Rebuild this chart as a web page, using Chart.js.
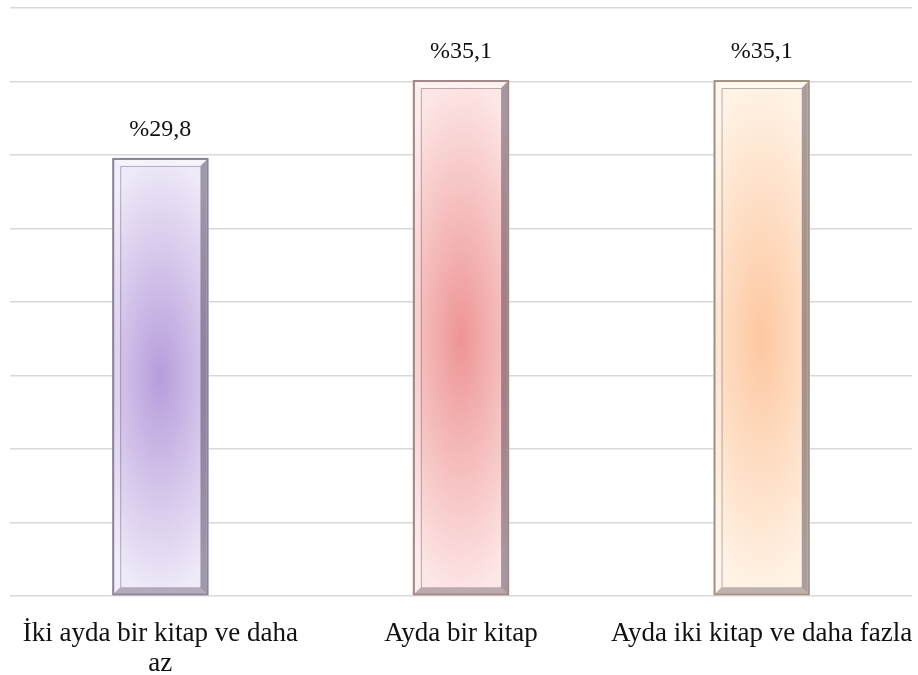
<!DOCTYPE html>
<html>
<head>
<meta charset="utf-8">
<script src="https://cdn.jsdelivr.net/npm/chart.js@4/dist/chart.umd.min.js"></script>
<style>
  html, body { margin: 0; padding: 0; background: #ffffff; }
  #wrap { width: 918px; height: 675px; }
</style>
</head>
<body>
<div id="wrap"><canvas id="c" width="918" height="675"></canvas></div>
<script>
// Okuma sıklığı dağılımı (%)
const categories = [['İki ayda bir kitap ve daha', 'az'], 'Ayda bir kitap', 'Ayda iki kitap ve daha fazla'];
const values = [29.8, 35.1, 35.1];
const centerColors = ['#b69ddb', '#ee9494', '#fdc7a0'];
const edgeColors = ['#efe9f8', '#fde6e6', '#fff3e6'];
const frameColors = ['#8a8399', '#a08888', '#a29484'];

const serif = '"Liberation Serif", "Times New Roman", serif';
const fmt = v => '%' + v.toFixed(1).replace('.', ',');

// Draws the bevelled, radially shaded bars on top of the library's bar elements
const bevelBars = {
  id: 'bevelBars',
  afterDatasetsDraw(chart) {
    const ctx = chart.ctx;
    const meta = chart.getDatasetMeta(0);
    meta.data.forEach((bar, i) => {
      const { x, y, base, width } = bar.getProps(['x', 'y', 'base', 'width'], true);
      const l = x - width / 2, r = x + width / 2, t = y, b = base;
      const w = r - l, h = b - t;
      const cx = x, cy = (t + b) / 2;

      // radial body
      ctx.save();
      ctx.beginPath();
      ctx.rect(l, t, w, h);
      ctx.clip();
      ctx.fillStyle = edgeColors[i];
      ctx.fillRect(l, t, w, h);
      ctx.translate(cx, cy);
      const ry = h / 2;
      const rx = w * 0.85;
      ctx.scale(rx / ry, 1);
      const g = ctx.createRadialGradient(0, 0, 0, 0, 0, ry);
      g.addColorStop(0, centerColors[i]);
      g.addColorStop(1, edgeColors[i]);
      ctx.fillStyle = g;
      ctx.fillRect(-ry, -ry, 2 * ry, 2 * ry);
      ctx.restore();

      const o = 2, inn = 8;
      ctx.save();
      // light bevel: top and left
      ctx.fillStyle = 'rgba(255,255,255,0.45)';
      ctx.beginPath();
      ctx.moveTo(l + o, t + o); ctx.lineTo(r - o, t + o); ctx.lineTo(r - inn, t + inn);
      ctx.lineTo(l + inn, t + inn); ctx.closePath(); ctx.fill();
      ctx.fillStyle = 'rgba(255,255,255,0.25)';
      ctx.beginPath();
      ctx.moveTo(l + o, t + o); ctx.lineTo(l + inn, t + inn); ctx.lineTo(l + inn, b - inn);
      ctx.lineTo(l + o, b - o); ctx.closePath(); ctx.fill();
      // dark bevel: right and bottom
      ctx.fillStyle = 'rgba(40,30,50,0.4)';
      ctx.beginPath();
      ctx.moveTo(r - o, t + o); ctx.lineTo(r - o, b - o); ctx.lineTo(r - inn, b - inn);
      ctx.lineTo(r - inn, t + inn); ctx.closePath(); ctx.fill();
      ctx.fillStyle = 'rgba(40,30,50,0.3)';
      ctx.beginPath();
      ctx.moveTo(l + o, b - o); ctx.lineTo(r - o, b - o); ctx.lineTo(r - inn, b - inn);
      ctx.lineTo(l + inn, b - inn); ctx.closePath(); ctx.fill();
      // inner edge lines
      ctx.strokeStyle = 'rgba(60,50,70,0.35)';
      ctx.lineWidth = 1;
      ctx.beginPath();
      ctx.moveTo(l + inn + 0.5, b - inn); ctx.lineTo(l + inn + 0.5, t + inn + 0.5); ctx.lineTo(r - inn, t + inn + 0.5);
      ctx.stroke();
      // outer frame
      ctx.strokeStyle = frameColors[i];
      ctx.lineWidth = 2;
      ctx.strokeRect(l + 1, t + 1, w - 2, h - 2);
      ctx.restore();

      // value label
      ctx.save();
      ctx.fillStyle = '#111111';
      ctx.font = '24px ' + serif;
      ctx.textAlign = 'center';
      ctx.textBaseline = 'middle';
      ctx.fillText(fmt(values[i]), x, t - 28);
      ctx.restore();
    });
  }
};

new Chart(document.getElementById('c'), {
  type: 'bar',
  data: {
    labels: categories,
    datasets: [{
      data: values,
      backgroundColor: centerColors,
      borderWidth: 0,
      barPercentage: 0.64,
      categoryPercentage: 0.5
    }]
  },
  options: {
    responsive: false,
    animation: false,
    devicePixelRatio: 1,
    layout: { padding: { left: 10, right: 6, top: 8, bottom: 0 } },
    plugins: { legend: { display: false }, tooltip: { enabled: false } },
    scales: {
      x: {
        grid: { display: false, drawTicks: false },
        border: { display: false },
        afterFit: s => { s.height = 79; s.paddingLeft = 0; s.paddingRight = 0; },
        ticks: {
          color: '#111111',
          padding: 23,
          maxRotation: 0,
          autoSkip: false,
          font: { family: serif, size: 27, lineHeight: 1.1 }
        }
      },
      y: {
        min: 0,
        max: 40,
        afterFit: s => { s.width = 0; },
        ticks: { display: false, stepSize: 5 },
        border: { display: false },
        grid: { color: '#d9d9d9', lineWidth: 1.5, drawTicks: false }
      }
    }
  },
  plugins: [bevelBars]
});
</script>
</body>
</html>
